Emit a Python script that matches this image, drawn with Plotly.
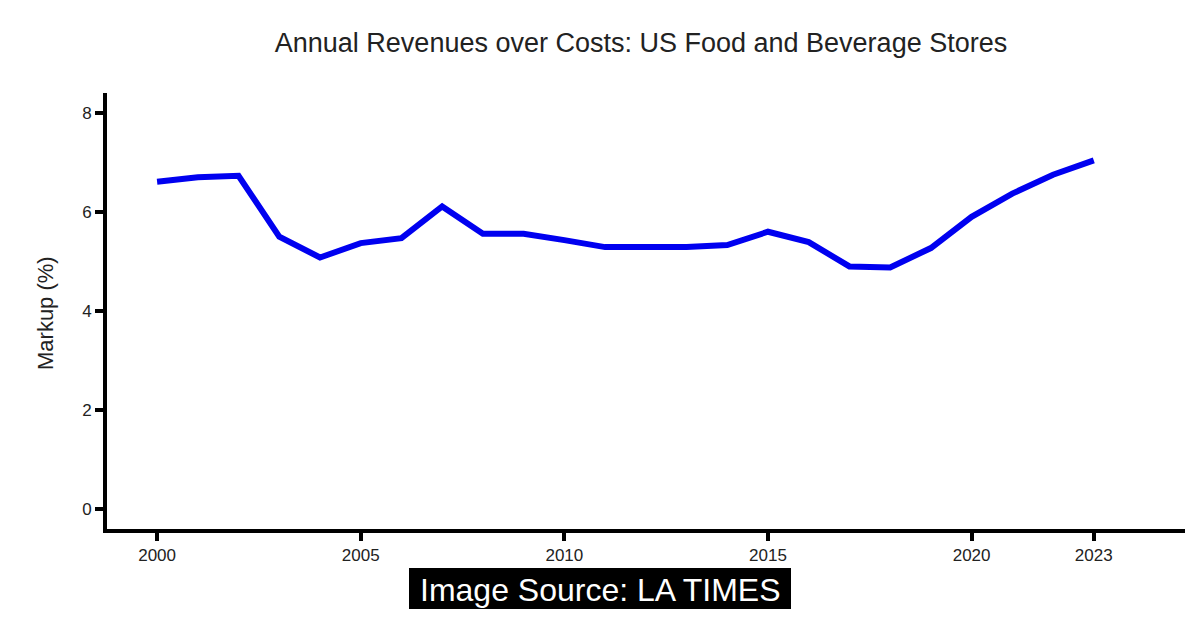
import plotly.graph_objects as go

years = list(range(2000, 2024))
markup = [6.61, 6.70, 6.73, 5.50, 5.08, 5.37, 5.47, 6.11, 5.56, 5.56,
          5.43, 5.29, 5.29, 5.29, 5.33, 5.60, 5.39, 4.90, 4.88, 5.27,
          5.90, 6.37, 6.75, 7.04]
x_ticks = [2000, 2005, 2010, 2015, 2020, 2023]
y_ticks = [0, 2, 4, 6, 8]

# page body has an 8px default margin; compensate
OFF = 8
W, H = 1200 - OFF, 620 - OFF
L, T, R, B = 107 - OFF, 93 - OFF, 15, 91
PW, PH = W - L - R, H - T - B

def px(xp):
    return (xp - OFF - L) / PW

def py(yp):
    return 1 - (yp - OFF - T) / PH

fig = go.Figure()
fig.add_trace(go.Scatter(x=years, y=markup, mode="lines",
                         line=dict(color="#0000F0", width=6),
                         showlegend=False, hoverinfo="x+y"))

font_family = "Liberation Sans, Arial, sans-serif"
fig.update_layout(
    width=W, height=H,
    paper_bgcolor="white", plot_bgcolor="white",
    margin=dict(l=L, r=R, t=T, b=B),
    title=dict(text="Annual Revenues over Costs: US Food and Beverage Stores",
               x=(641 - OFF) / W, xanchor="center", y=1 - (43 - OFF) / H, yanchor="middle",
               font=dict(family=font_family, size=27, color="#222")),
    font=dict(family=font_family, color="#222"),
    xaxis=dict(range=[1998.77, 2025.24], tickvals=x_ticks,
               ticktext=[str(v) for v in x_ticks],
               showgrid=False, zeroline=False,
               showline=True, linecolor="black", linewidth=4,
               ticks="outside", ticklen=8, tickwidth=4, tickcolor="black",
               tickfont=dict(size=17, color="#222")),
    yaxis=dict(range=[-0.4, 8.4], tickvals=y_ticks,
               showgrid=False, zeroline=False,
               showline=True, linecolor="black", linewidth=4,
               ticks="outside", ticklen=8, tickwidth=4, tickcolor="black",
               tickfont=dict(size=17, color="#222")),
    shapes=[dict(type="rect", xref="paper", yref="paper",
                 x0=px(409), x1=px(791), y0=py(609), y1=py(568),
                 fillcolor="black", line=dict(width=0), layer="above")],
    annotations=[
        dict(text="Markup (%)", xref="paper", yref="paper",
             x=px(45), y=py(313), xanchor="center", yanchor="middle",
             textangle=-90, showarrow=False,
             font=dict(family=font_family, size=22, color="#222")),
        dict(text="Image Source: LA TIMES", xref="paper", yref="paper",
             x=px(600), y=py(590), xanchor="center", yanchor="middle",
             showarrow=False,
             font=dict(family=font_family, size=32, color="white")),
    ],
)

fig.write_html("out.html")
